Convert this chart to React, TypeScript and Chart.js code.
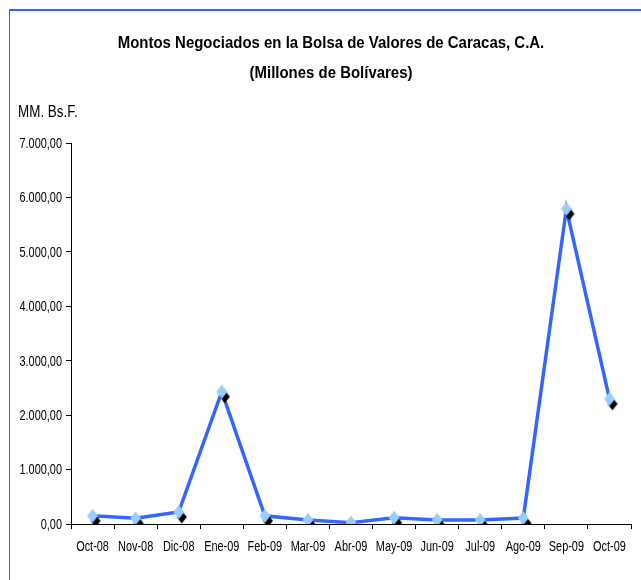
import React, { useEffect, useRef } from "react";
import { Chart, registerables } from "chart.js";

Chart.register(...registerables);

const categories = ["Oct-08", "Nov-08", "Dic-08", "Ene-09", "Feb-09", "Mar-09", "Abr-09", "May-09", "Jun-09", "Jul-09", "Ago-09", "Sep-09", "Oct-09"];
const montos = [150, 105, 220, 2430, 150, 75, 25, 115, 75, 75, 110, 5790, 2300];
const titleLines = ["Montos Negociados en la Bolsa de Valores de Caracas, C.A.", "(Millones de Bolívares)"];
const unitLabel = "MM. Bs.F.";

const FONT = '"Liberation Sans", Arial, sans-serif';
const NARROW = 0.78;

function fmt(v: number): string {
  const s = v.toFixed(2);
  const [i, d] = s.split(".");
  return i.replace(/\B(?=(\d{3})+(?!\d))/g, ".") + "," + d;
}

function makeMarker(): HTMLCanvasElement {
  const c = document.createElement("canvas");
  c.width = 26;
  c.height = 26;
  const ctx = c.getContext("2d")!;
  const diamond = (cx: number, cy: number, hw: number, hh: number, col: string) => {
    ctx.beginPath();
    ctx.moveTo(cx, cy - hh);
    ctx.lineTo(cx + hw, cy);
    ctx.lineTo(cx, cy + hh);
    ctx.lineTo(cx - hw, cy);
    ctx.closePath();
    ctx.fillStyle = col;
    ctx.fill();
  };
  diamond(16, 18, 5, 6.5, "#000000");
  diamond(13, 13, 5.5, 7, "#99CCFF");
  return c;
}

function narrowText(ctx: CanvasRenderingContext2D, text: string, x: number, y: number, sx: number) {
  ctx.save();
  ctx.translate(x, y);
  ctx.scale(sx, 1);
  ctx.fillText(text, 0, 0);
  ctx.restore();
}

const decor = {
  id: "decor",
  beforeDraw(chart: any) {
    const ctx = chart.ctx;
    ctx.save();
    ctx.fillStyle = "#ffffff";
    ctx.fillRect(0, 0, chart.width, chart.height);
    ctx.fillStyle = "#3366FF";
    ctx.fillRect(9, 9, chart.width - 9, 2);
    ctx.fillRect(9, 9, 1, chart.height - 9);
    ctx.fillStyle = "#000000";
    ctx.textAlign = "center";
    ctx.textBaseline = "middle";
    ctx.font = "bold 17px " + FONT;
    narrowText(ctx, titleLines[0], 331, 43, 0.88);
    narrowText(ctx, titleLines[1], 331, 73, 0.88);
    ctx.textAlign = "left";
    ctx.font = "16px " + FONT;
    narrowText(ctx, unitLabel, 18, 113, 0.84);
    ctx.restore();
  },
  afterDraw(chart: any) {
    const ctx = chart.ctx;
    const xs = chart.scales.x;
    const ys = chart.scales.y;
    ctx.save();
    ctx.fillStyle = "#000000";
    ctx.font = "14px " + FONT;
    ctx.textBaseline = "middle";
    ctx.textAlign = "center";
    xs.ticks.forEach((t: any, i: number) => {
      const label = categories[t.value] ?? String(t.label);
      narrowText(ctx, label, xs.getPixelForTick(i), xs.top + 23.5, NARROW);
    });
    ctx.textAlign = "right";
    ys.ticks.forEach((t: any, i: number) => {
      narrowText(ctx, fmt(Number(t.value)), ys.right - 9, ys.getPixelForTick(i) + 1, NARROW);
    });
    ctx.restore();
  },
};

export default function App() {
  const ref = useRef<HTMLCanvasElement | null>(null);
  useEffect(() => {
    if (!ref.current) return;
    const marker = makeMarker();
    const chart = new Chart(ref.current, {
      type: "line",
      data: {
        labels: categories,
        datasets: [
          {
            data: montos,
            borderColor: "#3366FF",
            borderWidth: 3.5,
            pointStyle: marker as any,
            pointRadius: 6,
            fill: false,
            tension: 0,
          },
        ],
      },
      options: {
        animation: false,
        responsive: false,
        events: [],
        layout: { padding: { top: 143, left: 0, right: 10, bottom: 0 } },
        plugins: { legend: { display: false }, title: { display: false }, tooltip: { enabled: false } },
        scales: {
          x: {
            offset: true,
            grid: { offset: true, drawOnChartArea: false, color: "#000000", tickLength: 5, tickColor: "#000000" },
            border: { color: "#000000", width: 1 },
            ticks: { color: "rgba(0,0,0,0)", font: { family: FONT, size: 12 }, padding: 12, maxRotation: 0, autoSkip: false },
            afterFit: (s: any) => { s.height = 56; },
          },
          y: {
            min: 0,
            max: 7000,
            grid: { drawOnChartArea: false, color: "#000000", tickLength: 5, tickColor: "#000000" },
            border: { color: "#000000", width: 1 },
            ticks: { stepSize: 1000, color: "rgba(0,0,0,0)", font: { family: FONT, size: 12 }, padding: 4, callback: (v: any) => fmt(Number(v)) },
            afterFit: (s: any) => { s.width = 71; },
          },
        },
      },
      plugins: [decor],
    });
    return () => chart.destroy();
  }, []);
  return (
    <canvas ref={ref} width={641} height={580} style={{ position: "fixed", left: 0, top: 0, width: 641, height: 580 }} />
  );
}
